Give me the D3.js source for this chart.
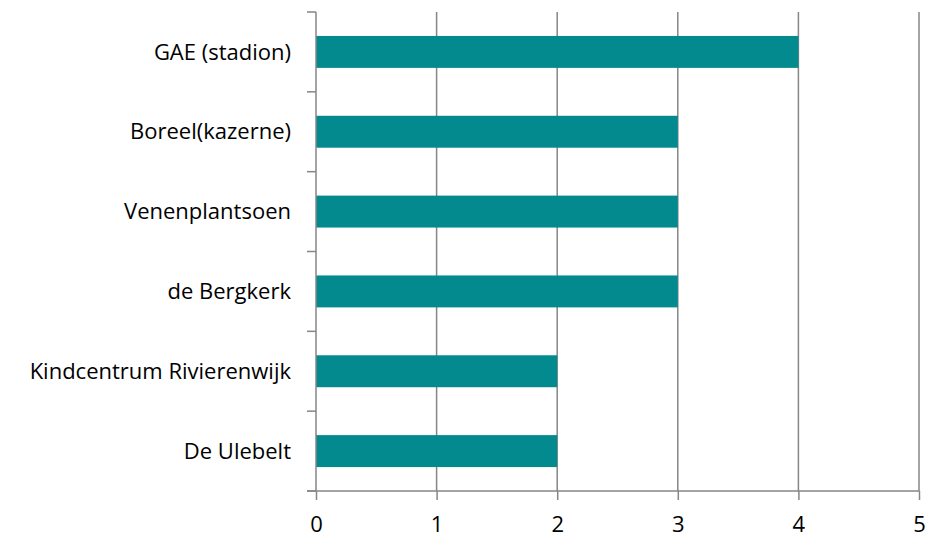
<!DOCTYPE html>
<html>
<head>
<meta charset="utf-8">
<script src="https://cdn.jsdelivr.net/npm/d3@7"></script>
<style>
  body { margin: 0; background: #fff; }
  text { font-family: "Open Sans", sans-serif; }
</style>
</head>
<body>
<div id="chart"></div>
<script>
// Chart data
const locations = ["GAE (stadion)", "Boreel(kazerne)", "Venenplantsoen", "de Bergkerk", "Kindcentrum Rivierenwijk", "De Ulebelt"];
const counts = [4, 3, 3, 3, 2, 2];
const xTicks = [0, 1, 2, 3, 4, 5];

const margin = { top: 12, right: 7, bottom: 46, left: 316 },
    width = 926 - margin.left - margin.right,
    height = 537 - margin.top - margin.bottom;

const gridColor = "#868686";
const barColor = "#028a8f";

const svg = d3.select("#chart").append("svg")
    .attr("width", 926)
    .attr("height", 537)
    .append("g")
    .attr("transform", `translate(${margin.left},${margin.top})`);

const x = d3.scaleLinear().domain([0, 5]).range([0, width]);
const y = d3.scaleBand().domain(locations).range([0, height]).paddingInner(0.6).paddingOuter(0.3);

// Vertical gridlines
svg.append("g")
    .selectAll("line")
    .data(xTicks.slice(1))
    .join("line")
    .attr("x1", d => x(d))
    .attr("x2", d => x(d))
    .attr("y1", 0)
    .attr("y2", height)
    .attr("stroke", gridColor)
    .attr("stroke-width", 1.5);

// Bars
svg.append("g")
    .selectAll("rect")
    .data(locations)
    .join("rect")
    .attr("x", 0)
    .attr("y", d => y(d))
    .attr("width", (d, i) => x(counts[i]))
    .attr("height", y.bandwidth())
    .attr("fill", barColor);

// X axis
const xAxis = svg.append("g")
    .attr("transform", `translate(0,${height})`)
    .call(d3.axisBottom(x).tickValues(xTicks).tickSize(9).tickPadding(16).tickFormat(d3.format("d")));
xAxis.select(".domain").remove();
xAxis.append("line")
    .attr("x1", -9).attr("x2", width)
    .attr("stroke", gridColor).attr("stroke-width", 1.5);
xAxis.selectAll(".tick line").attr("stroke", gridColor).attr("stroke-width", 1.5);
xAxis.selectAll(".tick text").attr("font-size", "22px").attr("fill", "#000");

// Y axis: ticks at category boundaries
const boundaries = d3.range(locations.length + 1).map(i => i * height / locations.length);
const yAxis = svg.append("g");
yAxis.append("line")
    .attr("x1", 0).attr("x2", 0).attr("y1", 0).attr("y2", height)
    .attr("stroke", gridColor).attr("stroke-width", 1.5);
yAxis.selectAll(".btick")
    .data(boundaries)
    .join("line")
    .attr("class", "btick")
    .attr("x1", -9).attr("x2", 0)
    .attr("y1", d => d).attr("y2", d => d)
    .attr("stroke", gridColor).attr("stroke-width", 1.5);
yAxis.selectAll(".lbl")
    .data(locations)
    .join("text")
    .attr("class", "lbl")
    .attr("x", -25)
    .attr("y", d => y(d) + y.bandwidth() / 2)
    .attr("dy", "0.35em")
    .attr("text-anchor", "end")
    .attr("font-size", "22px")
    .attr("fill", "#000")
    .text(d => d);
</script>
</body>
</html>
